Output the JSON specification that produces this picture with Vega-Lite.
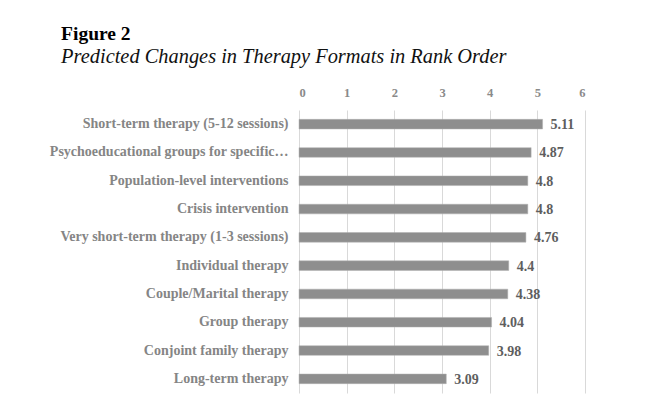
{
  "$schema": "https://vega.github.io/schema/vega-lite/v6.json",
  "autosize": "none",
  "width": 286,
  "height": 283,
  "padding": {"left": 299, "top": 110, "right": 69, "bottom": 23},
  "background": "white",
  "title": {
    "text": "Figure 2",
    "subtitle": "Predicted Changes in Therapy Formats in Rank Order",
    "anchor": "start",
    "frame": "bounds",
    "font": "Liberation Serif",
    "fontSize": 19.5,
    "fontWeight": "bold",
    "color": "#000000",
    "subtitleFont": "Liberation Serif",
    "subtitleFontSize": 20.4,
    "subtitleFontStyle": "italic",
    "subtitleColor": "#111111",
    "subtitlePadding": 2,
    "offset": 18,
    "dx": 12
  },
  "data": {
    "values": [
      {"format": "Short-term therapy (5-12 sessions)", "value": 5.11},
      {"format": "Psychoeducational groups for specific populations", "value": 4.87},
      {"format": "Population-level interventions", "value": 4.8},
      {"format": "Crisis intervention", "value": 4.8},
      {"format": "Very short-term therapy (1-3 sessions)", "value": 4.76},
      {"format": "Individual therapy", "value": 4.4},
      {"format": "Couple/Marital therapy", "value": 4.38},
      {"format": "Group therapy", "value": 4.04},
      {"format": "Conjoint family therapy", "value": 3.98},
      {"format": "Long-term therapy", "value": 3.09}
    ]
  },
  "encoding": {
    "y": {
      "field": "format",
      "type": "nominal",
      "sort": null,
      "title": null,
      "scale": {"paddingInner": 0.66, "paddingOuter": 0.33},
      "axis": {
        "domain": false,
        "ticks": false,
        "labelFont": "Liberation Serif",
        "labelFontSize": 14,
        "labelFontWeight": "bold",
        "labelColor": "#858585",
        "labelPadding": 11,
        "labelLimit": 241
      }
    },
    "x": {
      "field": "value",
      "type": "quantitative",
      "title": null,
      "scale": {"domain": [0, 6], "nice": false},
      "axis": {
        "orient": "top",
        "values": [0, 1, 2, 3, 4, 5, 6],
        "domain": false,
        "ticks": false,
        "grid": true,
        "gridColor": "#d9d9d9",
        "gridWidth": 1,
        "labelFont": "Liberation Serif",
        "labelFontSize": 12.5,
        "labelFontWeight": "bold",
        "labelColor": "#8a8a8a",
        "labelPadding": 11
      }
    }
  },
  "layer": [
    {
      "mark": {"type": "bar", "color": "#8e8e8e", "stroke": "#b0b0b0", "strokeWidth": 0.5}
    },
    {
      "mark": {
        "type": "text",
        "align": "left",
        "baseline": "middle",
        "dx": 8,
        "dy": 1,
        "font": "Liberation Serif",
        "fontSize": 14,
        "fontWeight": "bold",
        "color": "#5e5e5e"
      },
      "encoding": {"text": {"field": "value", "type": "quantitative"}}
    }
  ],
  "config": {"view": {"stroke": null}}
}
